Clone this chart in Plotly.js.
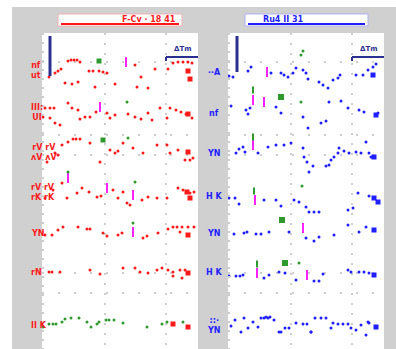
<!DOCTYPE html>
<html><head><meta charset="utf-8">
<script src="https://cdn.plot.ly/plotly-3.0.1.min.js"></script>
<style>html,body{margin:0;padding:0;background:#fff}#c{width:396px;height:349px}</style>
</head><body><div id="c"></div>
<script>
// ---- data (x = time units from plot left edge, y = units from plot top) ----
const titleLeft = "F-Cv · 18 41";
const titleRight = "Ru4 II 31";
const rowLabelsLeft = ["nf<br>ut", "III:<br>UI", "rV rV<br>\u028CV \u028CV", "rV rV<br>rK rK", "YN", "rN", "II K"];
const rowLabelsRight = ["\u00B7\u00B7A", "nf", "YN", "H K", "YN", "H K", "::\u00B7<br>YN"];
const rowLevelsLeft = [37, 79, 119, 159, 200, 239, 292];
const rowLevelsRight = [39, 80, 120, 163, 200, 239, 292];
const scaleLabel = "\u0394Tm";

const leftMainX = [7,13,16,19,26,29,32,35,38,47,51,57,61,65,23,30,36,53,73,93,99,106,113,126,131,136,141,146,150,95,
 3,8,12,1,8,13,18,26,30,36,38,43,48,54,65,68,73,86,93,99,106,110,118,125,128,134,139,144,150,
 5,13,16,20,26,31,34,38,48,58,68,73,76,81,91,101,115,125,128,136,143,148,151,
 3,11,20,25,35,40,47,55,59,71,76,81,85,88,100,106,115,125,136,141,148,152,
 3,10,16,21,36,45,48,61,65,76,80,101,105,116,126,131,135,140,146,152,138,
 7,10,18,48,58,81,93,98,106,115,120,126,131,138,143,140,131];
const leftMainY = [44,40,38,36,28,27,27,27,29,38,38,38,39,40,50,51,49,54,51,32,44,55,36,36,30,29,29,29,30,54,
 75,75,75,84,85,90,92,70,75,77,86,84,84,79,80,85,82,81,84,86,80,87,75,85,75,77,79,81,85,
 129,120,122,112,109,106,106,106,110,129,117,120,118,110,115,120,112,112,120,117,127,127,125,
 165,157,150,165,160,155,159,164,163,157,165,159,170,172,167,164,165,165,155,157,160,159,
 202,202,197,194,194,196,196,200,203,202,200,205,203,200,196,194,194,194,194,194,199,
 239,239,239,237,241,235,235,239,240,237,235,237,239,237,237,245,243];
const leftGreenX = [1,7,11,14,20,23,29,37,45,49,55,57,64,67,72,81,105,120,125,141];
const leftGreenY = [294,291,291,291,289,286,285,285,289,294,291,289,287,287,287,290,294,291,289,289];
const leftEndX = [146,148,146,146,145,148,146,146,146,131];
const leftEndY = [38,46,81,119,159,165,202,240,294,291];
const leftMagX = [84,58,26,65,91,91];
const leftMagY = [29,74,145,155,162,199];
const leftGreenSqX = [57,61];
const leftGreenSqY = [28,107];
const leftGreenDotX = [85,86,26,93,91];
const leftGreenDotY = [69,105,139,149,190];

const rightMainX = [1,5,20,23,43,53,56,60,65,68,75,78,80,91,95,100,105,110,112,128,135,140,145,148,150,
 3,18,20,22,48,53,75,80,93,98,101,113,120,131,136,143,
 8,11,15,17,30,40,48,56,63,75,76,79,81,85,98,101,103,106,110,111,116,121,128,133,138,141,141,
 1,7,11,36,48,53,66,71,78,81,86,91,120,125,130,131,
 6,16,19,28,33,41,61,78,86,91,106,120,138,141,
 1,8,12,15,36,41,51,57,68,86,91,95,120,123,131,136,140,
 3,7,13,16,20,25,30,33,36,38,40,42,46,51,53,57,61,68,75,79,83,83,87,93,98,103,105,110,115,120,123,128,133,138,141,143];
const rightMainY = [43,44,38,34,40,40,42,44,40,35,37,40,46,49,52,55,47,45,42,42,42,37,34,31,
 80,73,77,81,75,74,80,84,95,90,88,69,68,75,77,79,
 124,120,116,114,119,120,114,112,112,110,115,124,129,139,133,133,132,127,124,120,115,118,120,119,120,109,120,
 163,165,165,171,167,167,173,167,169,174,179,179,179,177,175,160,
 199,201,200,199,201,201,199,199,205,208,204,202,192,194,
 240,243,243,243,242,245,242,239,240,247,248,248,241,237,239,239,239,
 289,293,287,299,285,295,289,294,285,285,284,285,284,287,299,299,295,295,290,291,291,299,299,285,285,285,295,290,291,291,291,295,297,292,302,290];
const rightEndX = [145,148,146,146,150,146,146,148];
const rightEndY = [42,82,124,165,169,197,242,294];
const rightMagX = [39,25,36,25,27,75,29,79];
const rightMagY = [39,67,69,112,167,195,240,242];
const rightGreenSqX = [53,54,57];
const rightGreenSqY = [64,187,230];
const rightGreenDotX = [73,75,73,74,71];
const rightGreenDotY = [22,18,69,153,230];
const rightGreenBarX = [25,25,26,29];
const rightGreenBarY = [57,104,158,231];

const vGrid = [63, 124];
const hGrid = [29, 102, 122, 240, 260];

// ---- colours ----
const RED = "#ff1a1a", BLUE = "#1f1fff", GREEN = "#2e9a2e", MAG = "#ff22ff", NAVY = "#2b2f8f", GRIDC = "#cdcdcd";

function pts(x, y, xa, ya, color, size, symbol, extra) {
  return Object.assign({type: "scatter", mode: "markers", x: x, y: y, xaxis: xa, yaxis: ya, hoverinfo: "skip",
    marker: {color: color, size: size, symbol: symbol || "circle", line: {width: 0}}, showlegend: false}, extra || {});
}

const traces = [
  pts(leftMainX, leftMainY, "x", "y", RED, 3),
  pts(leftGreenX, leftGreenY, "x", "y", GREEN, 3),
  pts(leftEndX, leftEndY, "x", "y", RED, 5, "square"),
  pts(leftMagX, leftMagY, "x", "y", MAG, 7, "line-ns", {marker: {color: MAG, size: 7, symbol: "line-ns", line: {color: MAG, width: 2}}}),
  pts(leftGreenSqX, leftGreenSqY, "x", "y", GREEN, 5, "square"),
  pts(leftGreenDotX, leftGreenDotY, "x", "y", GREEN, 3),
  pts(rightMainX, rightMainY, "x2", "y2", BLUE, 3),
  pts(rightEndX, rightEndY, "x2", "y2", BLUE, 5, "square"),
  pts(rightMagX, rightMagY, "x2", "y2", MAG, 7, "line-ns", {marker: {color: MAG, size: 7, symbol: "line-ns", line: {color: MAG, width: 2}}}),
  pts(rightGreenSqX, rightGreenSqY, "x2", "y2", GREEN, 6, "square"),
  pts(rightGreenDotX, rightGreenDotY, "x2", "y2", GREEN, 3),
  pts(rightGreenBarX, rightGreenBarY, "x2", "y2", GREEN, 5, "line-ns", {marker: {color: GREEN, size: 5, symbol: "line-ns", line: {color: GREEN, width: 2}}})
];

function xax(domain) {
  return {domain: domain, range: [0, 156], showline: false, zeroline: false, showticklabels: false,
    tickmode: "array", tickvals: vGrid, ticks: "", showgrid: true, gridcolor: GRIDC, gridwidth: 2, griddash: "2px,8px", fixedrange: true};
}
function yax(anchor) {
  return {domain: [0, 0.9054], range: [316, 0], anchor: anchor, showline: false, zeroline: false, showticklabels: false,
    tickmode: "array", tickvals: hGrid, ticks: "", showgrid: true, gridcolor: GRIDC, gridwidth: 2, griddash: "2px,14px",
    minor: {tick0: 1, dtick: 9, ticks: "inside", ticklen: 2, tickwidth: 2, tickcolor: GRIDC, showgrid: false}, fixedrange: true};
}

const W = 396, H = 349;
const px = v => v / W, py = v => 1 - v / H;

const shapes = [
  {type: "rect", xref: "paper", yref: "paper", x0: 0, x1: 1, y0: py(0), y1: py(7), fillcolor: "#fff", line: {width: 0}, layer: "below"},
  {type: "rect", xref: "paper", yref: "paper", x0: 0, x1: px(12), y0: 0, y1: 1, fillcolor: "#fff", line: {width: 0}, layer: "below"},
  // title boxes
  {type: "rect", xref: "paper", yref: "paper", x0: px(58), x1: px(182), y0: py(26), y1: py(14), fillcolor: "#fff", line: {color: "#f0b0b0", width: 1}},
  {type: "line", xref: "paper", yref: "paper", x0: px(61), x1: px(179), y0: py(24), y1: py(24), line: {color: RED, width: 2}},
  {type: "rect", xref: "paper", yref: "paper", x0: px(245), x1: px(368), y0: py(26), y1: py(14), fillcolor: "#fff", line: {color: "#b0b0f0", width: 1}},
  {type: "line", xref: "paper", yref: "paper", x0: px(248), x1: px(365), y0: py(24), y1: py(24), line: {color: BLUE, width: 2}},
  // vertical scale bars
  {type: "line", xref: "x", yref: "y", x0: 8, x1: 8, y0: 3, y1: 43, line: {color: NAVY, width: 3}},
  {type: "line", xref: "x2", yref: "y2", x0: 9, x1: 9, y0: 3, y1: 39, line: {color: NAVY, width: 3}},
  // horizontal scale bars
  {type: "line", xref: "x", yref: "y", x0: 124, x1: 156, y0: 24, y1: 24, line: {color: NAVY, width: 2}},
  {type: "line", xref: "x", yref: "y", x0: 124, x1: 124, y0: 24, y1: 28, line: {color: NAVY, width: 2}},
  {type: "line", xref: "x2", yref: "y2", x0: 124, x1: 156, y0: 24, y1: 24, line: {color: NAVY, width: 2}},
  {type: "line", xref: "x2", yref: "y2", x0: 124, x1: 124, y0: 24, y1: 28, line: {color: NAVY, width: 2}}
];

const FONT = "DejaVu Sans, sans-serif";
const annotations = [
  {text: "<b>" + titleLeft + "</b>", xref: "paper", yref: "paper", x: px(120), y: py(19), yanchor: "middle", showarrow: false, font: {family: FONT, size: 8, color: RED}},
  {text: "<b>" + titleRight + "</b>", xref: "paper", yref: "paper", x: px(306), y: py(19), yanchor: "middle", showarrow: false, font: {family: FONT, size: 8, color: BLUE}},
  {text: "<b>" + scaleLabel + "</b>", xref: "x", yref: "y", x: 141, y: 16, showarrow: false, font: {family: FONT, size: 7, color: NAVY}},
  {text: "<b>" + scaleLabel + "</b>", xref: "x2", yref: "y2", x: 141, y: 16, showarrow: false, font: {family: FONT, size: 7, color: NAVY}}
];
rowLabelsLeft.forEach((t, i) => annotations.push({text: "<b>" + t + "</b>", xref: "paper", yref: "y", x: px(29), y: rowLevelsLeft[i],
  showarrow: false, align: "center", font: {family: FONT, size: 8, color: RED}}));
rowLabelsRight.forEach((t, i) => annotations.push({text: "<b>" + t + "</b>", xref: "paper", yref: "y2", x: px(214), y: rowLevelsRight[i],
  showarrow: false, align: "center", font: {family: FONT, size: 8, color: BLUE}}));

const layout = {
  width: W, height: H, margin: {l: 0, r: 0, t: 0, b: 0, pad: 0},
  paper_bgcolor: "#d0d0d0", plot_bgcolor: "#ffffff", showlegend: false,
  xaxis: xax([px(42), px(198)]), yaxis: yax("x"),
  xaxis2: xax([px(228), px(384)]), yaxis2: yax("x2"),
  shapes: shapes, annotations: annotations
};
layout.xaxis.anchor = "y";
layout.xaxis2.anchor = "y2";
Plotly.newPlot("c", traces, layout, {staticPlot: true, displayModeBar: false});
</script>
</body></html>
